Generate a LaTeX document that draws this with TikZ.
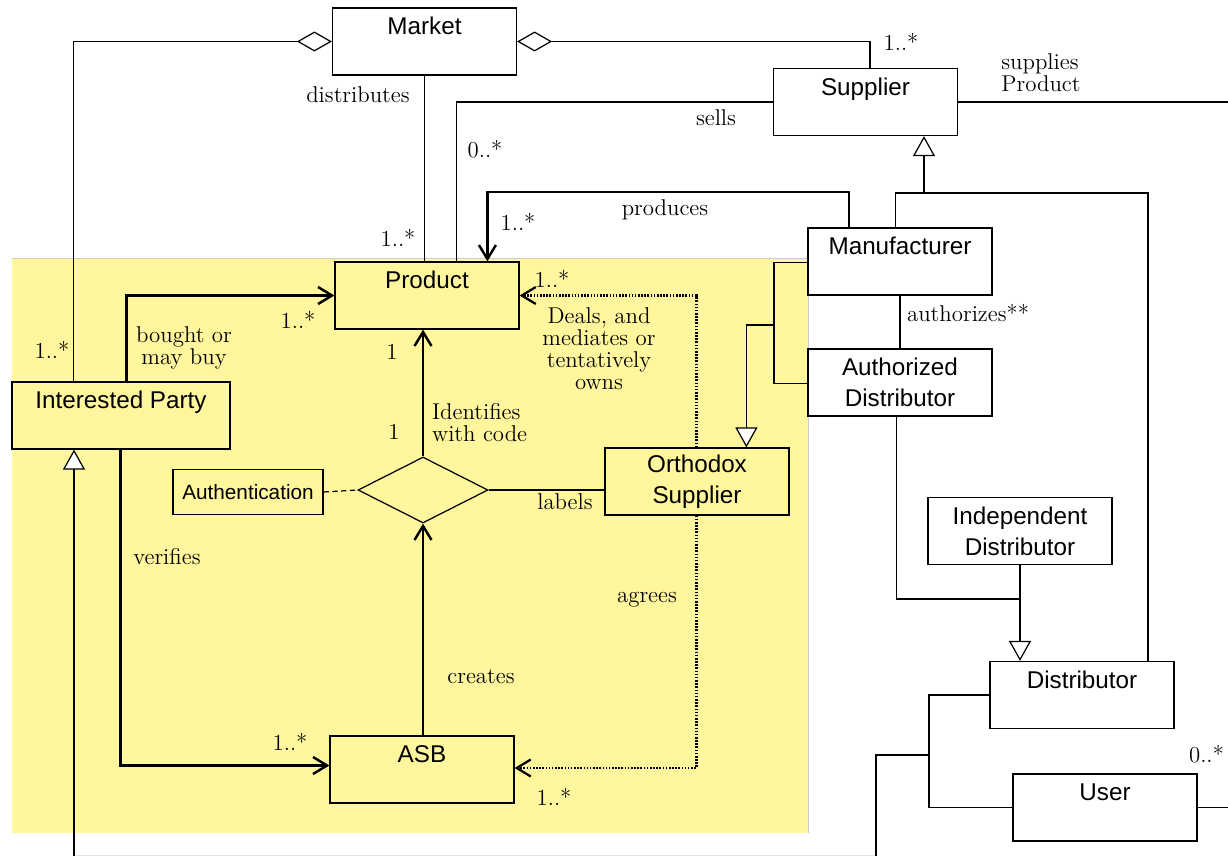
\documentclass[tikz,border=0pt]{standalone}
\usepackage{fontspec}
\setsansfont{Liberation Sans}
\definecolor{notebg}{RGB}{255, 246, 158}
\definecolor{notegray}{RGB}{205, 205, 205}
\definecolor{edgegray}{RGB}{228, 228, 228}
\usetikzlibrary{arrows.meta, positioning, calc, shapes.geometric}

\tikzset{
  cls/.style={draw, line width=0.7pt, minimum width=3.68cm, minimum height=1.34cm, inner sep=0pt, align=center, font=\sffamily\fontsize{13.8}{17.6}\selectfont},
  lbl/.style={font=\fontsize{13}{12.5}\selectfont, inner sep=1pt, align=center},
  thin/.style={line width=0.7pt},
  bold/.style={line width=1.4pt},
  arr/.style={-{Straight Barb[length=0.28cm,width=0.34cm]}},
  gen/.style={-{Triangle[length=0.4cm,width=0.44cm,fill=white]}},
  agg/.style={-{Diamond[length=0.7cm,width=0.4cm,fill=white]}},
  dots/.style={line width=1.3pt, dash pattern=on 0.9pt off 0.9pt}
}

\begin{document}
\begin{tikzpicture}[x=0.02cm, y=-0.02cm]
  \useasboundingbox (0,0) rectangle (1228,856);

  % Highlighted area
  \fill[notebg] (12,258) rectangle (808,833);
  \draw[notegray, line width=0.5pt] (12,258) -- (808,258) -- (808,833);
  \draw[edgegray, line width=0.5pt] (74,855) -- (876,855);

  % Classes
  \node[cls] (mkt) at (424.5,41.5) {Market\\\mbox{}};
  \node[cls] (sup) at (865.5,102) {Supplier\\\mbox{}};
  \node[cls] (mfr) at (900,261.5) {Manufacturer\\\mbox{}};
  \node[cls] (ad) at (900,382.5) {Authorized\\Distributor};
  \node[cls] (prod) at (427,295.5) {Product\\\mbox{}};
  \node[cls, minimum width=4.36cm] (ip) at (121,415.5) {Interested Party\\\mbox{}};
  \node[cls, minimum width=3cm, minimum height=0.9cm, font=\sffamily\fontsize{11.8}{14}\selectfont] (auth) at (248,492) {Authentication};
  \node[draw, thin, diamond, minimum width=2.6cm, minimum height=1.32cm, inner sep=0pt] (dia) at (423,490) {};
  \node[cls] (orth) at (697,481.5) {Orthodox\\Supplier};
  \node[cls] (asb) at (422,769.5) {ASB\\\mbox{}};
  \node[cls] (ind) at (1020,531) {Independent\\Distributor};
  \node[cls] (dist) at (1082,695) {Distributor\\\mbox{}};
  \node[cls] (usr) at (1105,807.5) {User\\\mbox{}};

  % Junction points
  \coordinate (gj) at (924,193);
  \coordinate (gr) at (1148,193);
  \coordinate (pb) at (849,192);
  \coordinate (bk) at (774,325);
  \coordinate (dj) at (1020,599);
  \coordinate (uj) at (929,755);
  \coordinate (ub) at (876,856);
  \coordinate (ib) at (74,856);
  \coordinate (redge) at (1228,0);

  % Market aggregations
  \draw[thin, agg] ($(ip.north west)+(62,0)$) |- (mkt.west);
  \draw[thin, agg] ($(sup.north west)+(97,0)$) |- (mkt.east);
  \draw[thin] (mkt.south) -- (mkt.south |- prod.north);
  \draw[thin] (sup.west) -| ($(prod.north west)+(122,0)$);
  \draw[thin] (sup.east) -- (sup.east -| redge);

  % Supplier hierarchy
  \draw[thin, gen] (gj) -- (gj |- sup.south);
  \draw[thin] ($(mfr.north west)+(88,0)$) |- (gr) -- (gr |- dist.north);
  \draw[bold, arr] (pb |- mfr.north) -- (pb) -| ($(prod.north west)+(153,0)$);
  \draw[thin] (mfr.south) -- (ad.north);
  \draw[thin] ($(mfr.north west)+(0,35)$) -| (bk);
  \draw[thin] ($(ad.south west)+(0,-33)$) -| (bk);
  \draw[thin, gen] (bk) -| ($(orth.north west)+(142,0)$);

  % Distributors
  \draw[thin] ($(ad.south west)+(89,0)$) |- (dj);
  \draw[thin] (ind.south) -- (dj);
  \draw[thin, gen] (dj) -- (dj |- dist.north);
  \draw[thin] (dist.west) -| (uj) |- (usr.west);
  \draw[thin] (uj) -| (ub);
  \draw[thin] (usr.east) -- (usr.east -| redge);

  % Highlighted relations
  \draw[thin, gen] (ib) -- (ib |- ip.south);
  \draw[bold, arr] ($(ip.north west)+(115,0)$) |- (prod.west);
  \draw[bold, arr] ($(ip.south west)+(109,0)$) |- ($(asb.west)+(0,-4)$);
  \draw[bold, arr] (dia.north) -- (dia.north |- prod.south);
  \draw[bold, arr] (dia.south |- asb.north) -- (dia.south);
  \draw[thin, dashed, dash pattern=on 3pt off 2pt] (auth.east) -- (dia.west);
  \draw[thin] (dia.east) -- (dia.east -| orth.west);
  \draw[dots, arr] ($(orth.north west)+(92,0)$) |- (prod.east);
  \draw[dots, arr] ($(orth.south west)+(92,0)$) |- ($(asb.east)+(0,-1.5)$);

  % Labels
  \node[lbl] (lDistr) at (358,95) {distributes};
  \node[lbl] (mDistr) at (398,238) {1..*};
  \node[lbl] (lSells) at (716,118) {sells};
  \node[lbl] (mSells) at (485,149) {0..*};
  \node[lbl] (mMkt) at (901,42) {1..*};
  \node[lbl, align=left] (lSupp) at (1041,73) {supplies\\Product};
  \node[lbl] (lProd) at (665,210) {produces};
  \node[lbl] (mProd) at (518,222) {1..*};
  \node[lbl] (mDeals) at (552,279) {1..*};
  \node[lbl] (lDeals) at (599,349) {Deals, and\\mediates or\\tentatively\\owns};
  \node[lbl, anchor=west] (lAuth) at (905,313) {authorizes**};
  \node[lbl] (mIp) at (52,350) {1..*};
  \node[lbl] (lBuy) at (184,348) {bought or\\may buy};
  \node[lbl] (mBuy) at (298,320) {1..*};
  \node[lbl] (mId) at (392,352) {1};
  \node[lbl] (mDia) at (394,432) {1};
  \node[lbl, align=left, anchor=west] (lId) at (430,422.5) {Identifies\\with code};
  \node[lbl] (lLab) at (565,502) {labels};
  \node[lbl] (lVer) at (167,557) {verifies};
  \node[lbl] (lCre) at (481,677) {creates};
  \node[lbl] (lAgr) at (647,600) {agrees};
  \node[lbl] (mVer) at (290,742) {1..*};
  \node[lbl] (mAgr) at (554,797) {1..*};
  \node[lbl, anchor=east] (mUsr) at (1226,754) {0..*};
\end{tikzpicture}
\end{document}
